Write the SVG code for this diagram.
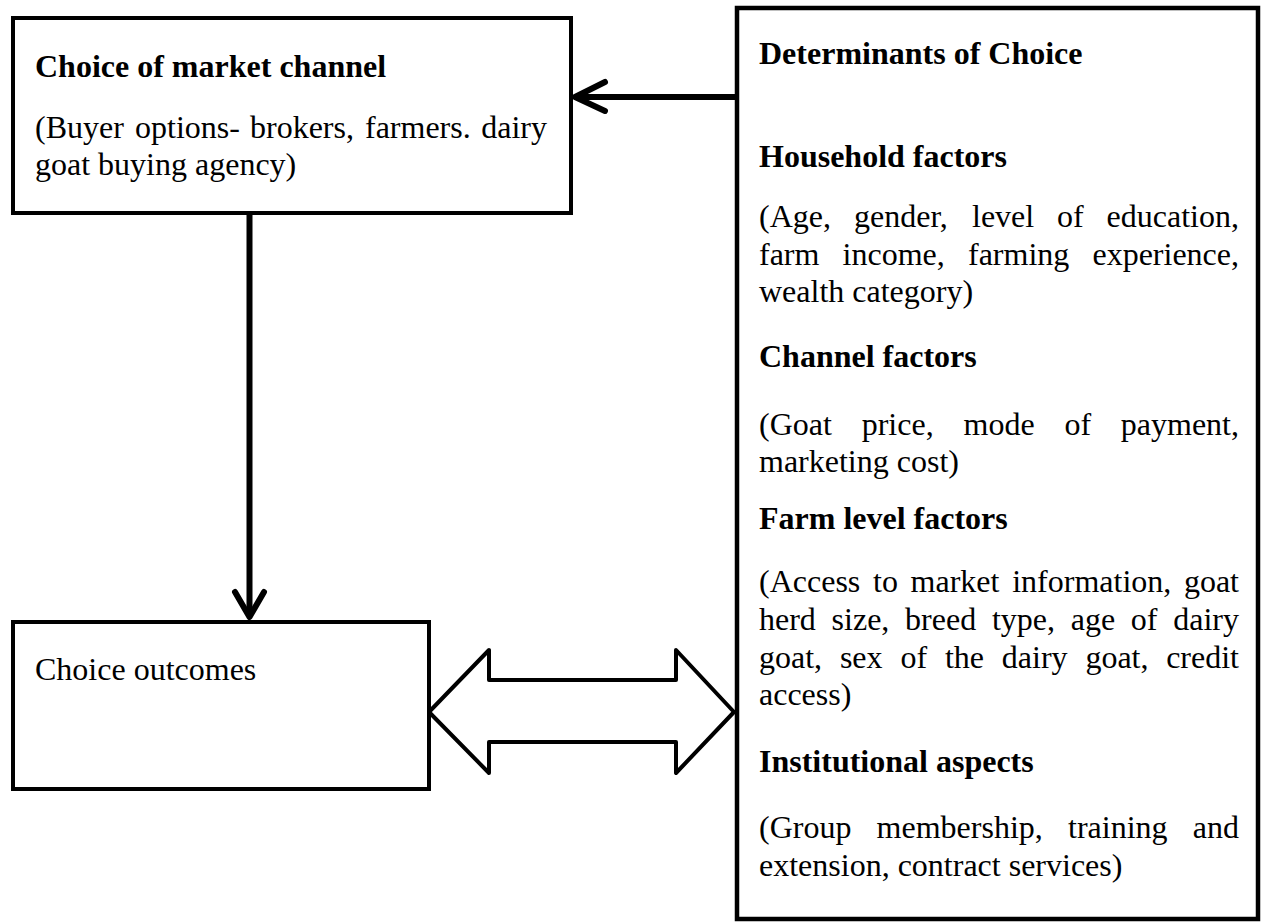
<svg xmlns="http://www.w3.org/2000/svg" width="1264" height="924" viewBox="0 0 1264 924">
<style>
.box{fill:#fff;stroke:#000;stroke-width:4}
.t{font-family:"Liberation Serif","Times New Roman",serif;font-size:32px;fill:#000}
.b{font-weight:bold}
.e{text-anchor:end}
.ln{fill:none;stroke:#000;stroke-width:6;stroke-linecap:round;stroke-linejoin:round}
</style>
<rect width="1264" height="924" fill="#fff"/>
<g id="connectors">
<line class="ln" x1="735" y1="97" x2="577" y2="97"/>
<polyline class="ln" points="605,82 575,97 605,111"/>
<line class="ln" x1="249.5" y1="213" x2="249.5" y2="614"/>
<polyline class="ln" points="235,592 249.5,617 264,592"/>
<path d="M429,712 L489,650 L489,680 L676,680 L676,650 L734,712 L676,773 L676,742 L489,742 L489,773 Z" fill="#fff" stroke="#000" stroke-width="4" stroke-linejoin="round"/>
</g>
<g id="market-channel">
<rect class="box" x="13" y="18" width="558" height="195"/>
<text class="t b" x="35" y="77">Choice of market channel</text>
<text class="t" y="138"><tspan x="35">(Buyer</tspan><tspan x="135">options-</tspan><tspan x="250">brokers,</tspan><tspan x="365">farmers.</tspan><tspan x="547" class="e">dairy</tspan></text>
<text class="t" x="35" y="175">goat buying agency)</text>
</g>
<g id="choice-outcomes">
<rect class="box" x="13" y="622" width="416" height="167"/>
<text class="t" x="35" y="680">Choice outcomes</text>
</g>
<g id="determinants">
<rect class="box" x="737" y="8" width="521" height="911" style="stroke-width:4.5"/>
<text class="t b" x="759" y="64">Determinants of Choice</text>
<text class="t b" x="759" y="167">Household factors</text>
<text class="t" y="227"><tspan x="759">(Age,</tspan><tspan x="854">gender,</tspan><tspan x="972">level</tspan><tspan x="1057">of</tspan><tspan x="1239" class="e">education,</tspan></text>
<text class="t" y="265"><tspan x="759">farm</tspan><tspan x="842.6">income,</tspan><tspan x="968">farming</tspan><tspan x="1239" class="e">experience,</tspan></text>
<text class="t" x="759" y="302">wealth category)</text>
<text class="t b" x="759" y="367">Channel factors</text>
<text class="t" y="435"><tspan x="759">(Goat</tspan><tspan x="861.7">price,</tspan><tspan x="963.5">mode</tspan><tspan x="1064.4">of</tspan><tspan x="1239" class="e">payment,</tspan></text>
<text class="t" x="759" y="472">marketing cost)</text>
<text class="t b" x="759" y="529">Farm level factors</text>
<text class="t" y="592"><tspan x="759">(Access</tspan><tspan x="873">to</tspan><tspan x="910.6">market</tspan><tspan x="1012.2">information,</tspan><tspan x="1239" class="e">goat</tspan></text>
<text class="t" y="630"><tspan x="759">herd</tspan><tspan x="831.6">size,</tspan><tspan x="905.1">breed</tspan><tspan x="991.9">type,</tspan><tspan x="1070.7">age</tspan><tspan x="1130.8">of</tspan><tspan x="1239" class="e">dairy</tspan></text>
<text class="t" y="668"><tspan x="759">goat,</tspan><tspan x="839.9">sex</tspan><tspan x="900.4">of</tspan><tspan x="944.9">the</tspan><tspan x="1001.8">dairy</tspan><tspan x="1085.4">goat,</tspan><tspan x="1239" class="e">credit</tspan></text>
<text class="t" x="759" y="705">access)</text>
<text class="t b" x="759" y="772">Institutional aspects</text>
<text class="t" y="838"><tspan x="759">(Group</tspan><tspan x="876.6">membership,</tspan><tspan x="1068">training</tspan><tspan x="1239" class="e">and</tspan></text>
<text class="t" x="759" y="876">extension, contract services)</text>
</g>
</svg>
